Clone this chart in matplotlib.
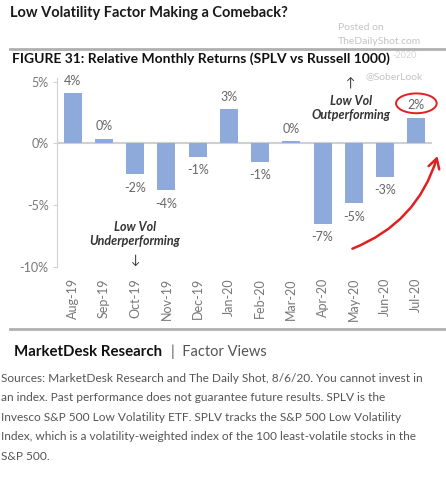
import numpy as np
import matplotlib.pyplot as plt
from matplotlib.patches import Ellipse, FancyArrowPatch

months = ['Aug-19', 'Sep-19', 'Oct-19', 'Nov-19', 'Dec-19', 'Jan-20',
          'Feb-20', 'Mar-20', 'Apr-20', 'May-20', 'Jun-20', 'Jul-20']
rel_returns = [4.1, 0.4, -2.5, -3.8, -1.1, 2.8, -1.5, 0.2, -6.5, -4.85, -2.7, 2.1]
bar_labels = ['4%', '0%', '-2%', '-4%', '-1%', '3%', '-1%', '0%', '-7%', '-5%', '-3%', '2%']
yticks = [-10, -5, 0, 5]
ytick_labels = ['-10%', '-5%', '0%', '5%']

W, H = 446, 490
plt.rcParams['font.family'] = ['Lato', 'DejaVu Sans']

def px(x, y):
    # pixel position (from top-left) -> figure fraction
    return x / W, 1 - y / H

fig = plt.figure(figsize=(W / 100, H / 100), dpi=100)
fig.patch.set_facecolor('white')

# axes placed in pixel coordinates
left, right, top, bottom = 57, 432, 78, 267
ax = fig.add_axes([left / W, 1 - bottom / H, (right - left) / W, (bottom - top) / H])

x = np.arange(len(months))
ax.bar(x, rel_returns, width=0.58, color='#8eaadb', zorder=2)
ax.axhline(0, color='#d0d0d0', lw=1.5, zorder=1)

for xi, v, lab in zip(x, rel_returns, bar_labels):
    if v >= 0:
        ax.text(xi, v + 0.5, lab, ha='center', va='bottom', fontsize=9, color='#666666')
    else:
        ax.text(xi, v - 0.6, lab, ha='center', va='top', fontsize=9, color='#666666')

ax.set_xlim(-0.5, 11.5)
ax.set_ylim(-10, 5.3)
ax.set_yticks(yticks)
ax.set_yticklabels(ytick_labels)
ax.set_xticks(x)
ax.set_xticklabels(months, rotation=90)
ax.tick_params(axis='y', colors='#d0d0d0', labelcolor='#777777', labelsize=9, length=3, pad=3)
ax.tick_params(axis='x', length=0, labelcolor='#777777', labelsize=9, pad=8)
for s in ['top', 'right', 'bottom']:
    ax.spines[s].set_visible(False)
ax.spines['left'].set_color('#d0d0d0')

# annotations
ax.text(2, -7.3, 'Low Vol\nUnderperforming', ha='center', va='center', fontsize=9,
        fontweight='bold', style='italic', color='#333333', linespacing=1.2)
ax.text(2, -9.4, '\u2193', ha='center', va='center', fontsize=9, color='#333333')
ax.text(8.9, 4.9, '\u2191', ha='center', va='center', fontsize=9, color='#333333')
ax.text(8.9, 2.9, 'Low Vol\nOutperforming', ha='center', va='center', fontsize=9,
        fontweight='bold', style='italic', color='#333333', linespacing=1.2)
ax.text(10.3, 5.45, '@SoberLook', ha='center', va='center', fontsize=7.5, color='#c4c4c4')

ax.add_patch(Ellipse((11.0, 3.25), 1.3, 1.6, fill=False, ec='#e02020', lw=1.4, clip_on=False))
ax.add_patch(FancyArrowPatch((8.87, -8.6), (11.7, -0.8), connectionstyle='arc3,rad=0.25',
                             arrowstyle='->,head_length=7,head_width=4', color='#e02020',
                             lw=1.8, clip_on=False, mutation_scale=1))

# header
fig.text(*px(10, 13), 'Low Volatility Factor Making a Comeback?', fontsize=10.5,
         fontweight='bold', color='#1a1a1a', va='center', ha='left')
fig.add_artist(plt.Line2D([10 / W, 1], [1 - 49 / H] * 2, color='#b0b0b0', lw=2))
fig.text(*px(338, 27), 'Posted on', fontsize=7.5, color='#c4c4c4', va='center')
fig.text(*px(338, 42), 'TheDailyShot.com', fontsize=7.5, color='#c4c4c4', va='center')
fig.text(*px(392, 55), '-2020', fontsize=6.5, color='#d4d4d4', va='center')
fig.text(*px(12, 59), 'FIGURE 31: Relative Monthly Returns (SPLV vs Russell 1000)', fontsize=10,
         fontweight='bold', color='#111111', va='center', ha='left')

# footer
fig.add_artist(plt.Line2D([10 / W, 1], [1 - 329 / H] * 2, color='#b0b0b0', lw=2))
fig.text(*px(14, 352), 'MarketDesk Research', fontsize=10.8, fontweight='bold', color='#111111', va='center')
fig.text(*px(171, 352), '|  Factor Views', fontsize=10.5, color='#555555', va='center')

caption = ['Sources: MarketDesk Research and The Daily Shot, 8/6/20. You cannot invest in',
           'an index. Past performance does not guarantee future results. SPLV is the',
           'Invesco S&P 500 Low Volatility ETF. SPLV tracks the S&P 500 Low Volatility',
           'Index, which is a volatility-weighted index of the 100 least-volatile stocks in the',
           'S&P 500.']
for i, line in enumerate(caption):
    fig.text(*px(1, 378 + i * 19.5), line, fontsize=8.6, color='#555555', va='center')

fig.savefig('out.png', dpi=100)
